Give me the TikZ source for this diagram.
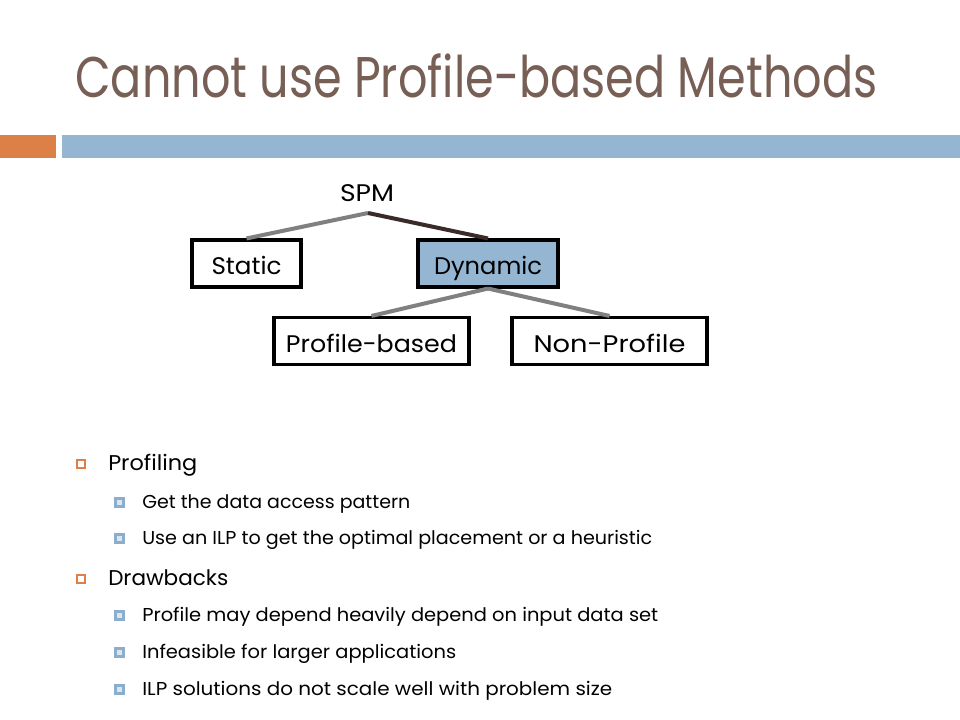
\documentclass[tikz,border=0pt]{standalone}
\usepackage{fontspec}
\setmainfont{Poppins}
\usepackage{graphicx}
\newlength\pxu
\setlength\pxu{0.75pt}
\newcommand{\fitw}[2]{\resizebox{#1\pxu}{\height}{#2}}
\definecolor{titlec}{HTML}{775F55}
\definecolor{accblue}{HTML}{94B6D2}
\definecolor{accorange}{HTML}{DD8047}
\definecolor{bulblue}{HTML}{8AAECB}
\definecolor{bulfill}{HTML}{D9E6F0}
\definecolor{linegray}{HTML}{808080}
\definecolor{linedark}{HTML}{3A2B28}
\begin{document}
\begin{tikzpicture}[x=0.75pt,y=-0.75pt,
  txt/.style={inner sep=0pt,anchor=base west},
  treebox/.style={draw=black,line width=2.3pt,inner sep=0pt,minimum height=47*0.75pt,
    text height=19pt,text depth=2pt,font=\fontsize{18}{20}\selectfont},
  treeline/.style={line width=3pt,draw=linegray},
  lvone/.style={txt,font=\fontsize{16}{18}\selectfont},
  lvtwo/.style={txt,font=\fontsize{14}{16}\selectfont},
  bulone/.style={draw=accorange,line width=1.1pt},
  bultwo/.style={draw=bulblue,line width=1.9pt,fill=bulfill}]
\useasboundingbox (0,0) rectangle (960,720);
\fill[white] (0,0) rectangle (960,720);
% title
\node[txt,text=titlec,font=\fontsize{43}{48}\selectfont] (title) at (75,98) {\fitw{802}{Cannot use Profile-based Methods}};
% bars
\fill[accorange] (0,135) rectangle (56,158);
\fill[accblue] (62,135) rectangle (960,158);
% tree
\node[inner sep=0pt,anchor=base,font=\fontsize{18}{20}\selectfont] (spm) at (367,202) {\fitw{54}{SPM}};
\coordinate (apex) at (368,213);
\node[treebox,minimum width=109*0.75pt] (static) at (246.5,263.5) {\fitw{70}{Static}};
\node[treebox,minimum width=140*0.75pt,fill=accblue] (dynamic) at (488,263.5) {\fitw{108}{Dynamic}};
\node[treebox,minimum width=195*0.75pt] (profile) at (371.5,341) {\fitw{171}{Profile-based}};
\node[treebox,minimum width=195*0.75pt] (nonprofile) at (609.5,341) {\fitw{152}{Non-Profile}};
\draw[treeline] (apex) -- (static.north);
\draw[treeline,draw=linedark] (apex) -- (dynamic.north);
\draw[treeline] (dynamic.south) -- (profile.north);
\draw[treeline] (dynamic.south) -- (nonprofile.north);
% bullets
\draw[bulone] (77,460) rectangle (85,468);
\node[lvone] (b1) at (108,470) {\fitw{89}{Profiling}};
\draw[bultwo] (115.5,498.5) rectangle (123.5,506.5);
\node[lvtwo] (b11) at (142,508) {\fitw{268}{Get the data access pattern}};
\draw[bultwo] (115.5,534.5) rectangle (123.5,542.5);
\node[lvtwo] (b12) at (142,544) {\fitw{510}{Use an ILP to get the optimal placement or a heuristic}};
\draw[bulone] (77,575) rectangle (85,583);
\node[lvone] (b2) at (108,585) {\fitw{120}{Drawbacks}};
\draw[bultwo] (115.5,611.5) rectangle (123.5,619.5);
\node[lvtwo] (b21) at (142,621) {\fitw{516}{Profile may depend heavily depend on input data set}};
\draw[bultwo] (115.5,648.5) rectangle (123.5,656.5);
\node[lvtwo] (b22) at (142,658) {\fitw{314}{Infeasible for larger applications}};
\draw[bultwo] (115.5,685.5) rectangle (123.5,693.5);
\node[lvtwo] (b23) at (142,695) {\fitw{470}{ILP solutions do not scale well with problem size}};
\end{tikzpicture}
\end{document}
